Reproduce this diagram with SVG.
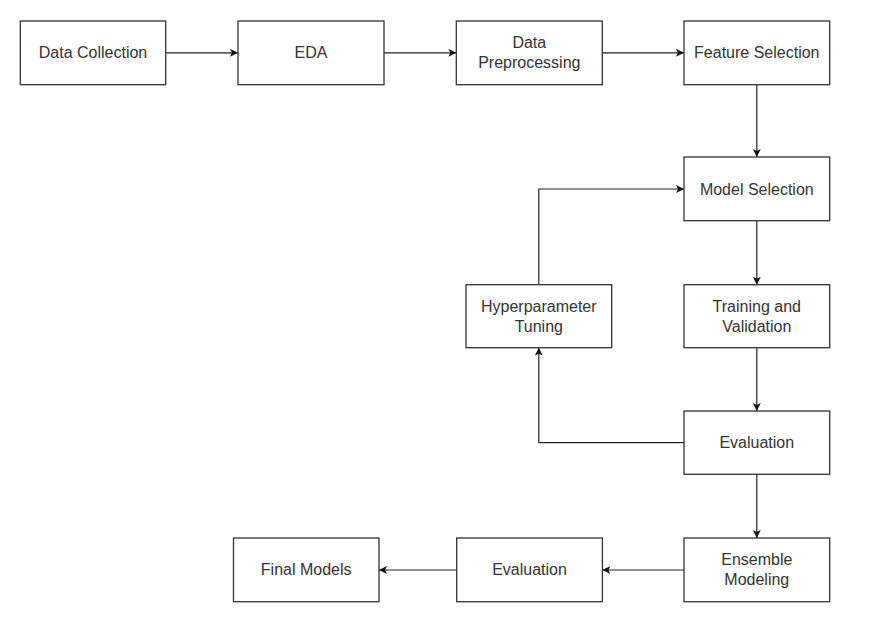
<svg xmlns="http://www.w3.org/2000/svg" width="870" height="627" viewBox="0 0 870 627">
<defs>
<style>
.box{fill:#fff;stroke:#333;stroke-width:1.3}
.lbl{font-family:"Liberation Sans",Arial,sans-serif;font-size:16px;fill:#333;text-anchor:middle}
.edge{fill:none;stroke:#222;stroke-width:1.2}
</style>
<marker id="ah" markerUnits="userSpaceOnUse" markerWidth="10" markerHeight="10" refX="8" refY="4" orient="auto">
<path d="M0,0 L8,4 L0,8 L2,4 Z" fill="#111"/>
</marker>
</defs>
<rect width="870" height="627" fill="#fff"/>
<g id="connectors">
<path class="edge" d="M165.7,52.8 H238" marker-end="url(#ah)"/>
<path class="edge" d="M384,52.8 H456.3" marker-end="url(#ah)"/>
<path class="edge" d="M602.3,52.8 H684" marker-end="url(#ah)"/>
<path class="edge" d="M756.8,84.7 V157" marker-end="url(#ah)"/>
<path class="edge" d="M756.8,220.7 V284.7" marker-end="url(#ah)"/>
<path class="edge" d="M756.8,347.7 V411" marker-end="url(#ah)"/>
<path class="edge" d="M684,442.7 H538.8 V347.7" marker-end="url(#ah)"/>
<path class="edge" d="M538.8,284.7 V189 H684" marker-end="url(#ah)"/>
<path class="edge" d="M756.8,474.3 V538" marker-end="url(#ah)"/>
<path class="edge" d="M684,570 H602.4" marker-end="url(#ah)"/>
<path class="edge" d="M456.7,570 H379" marker-end="url(#ah)"/>
</g>
<g id="data-collection"><rect class="box" x="20.3" y="21" width="145.4" height="63.7"/><text class="lbl" x="93" y="58.3">Data Collection</text></g>
<g id="eda"><rect class="box" x="238" y="21" width="146" height="63.7"/><text class="lbl" x="311" y="58.3">EDA</text></g>
<g id="data-preprocessing"><rect class="box" x="456.3" y="21" width="146" height="63.7"/><text class="lbl" x="529.3" y="48.3">Data</text><text class="lbl" x="529.3" y="68.3">Preprocessing</text></g>
<g id="feature-selection"><rect class="box" x="684" y="21" width="145.7" height="63.7"/><text class="lbl" x="756.8" y="58.3">Feature Selection</text></g>
<g id="model-selection"><rect class="box" x="684" y="157" width="145.7" height="63.7"/><text class="lbl" x="756.8" y="194.5">Model Selection</text></g>
<g id="training-validation"><rect class="box" x="684" y="284.7" width="145.7" height="63"/><text class="lbl" x="756.8" y="311.5">Training and</text><text class="lbl" x="756.8" y="331.5">Validation</text></g>
<g id="hyperparameter-tuning"><rect class="box" x="466" y="284.7" width="145.7" height="63"/><text class="lbl" x="538.8" y="311.5">Hyperparameter</text><text class="lbl" x="538.8" y="331.5">Tuning</text></g>
<g id="evaluation-1"><rect class="box" x="684" y="411" width="145.7" height="63.3"/><text class="lbl" x="756.8" y="448.3">Evaluation</text></g>
<g id="ensemble-modeling"><rect class="box" x="684" y="538" width="145.7" height="63.7"/><text class="lbl" x="756.8" y="565.3">Ensemble</text><text class="lbl" x="756.8" y="585.3">Modeling</text></g>
<g id="evaluation-2"><rect class="box" x="456.7" y="538" width="145.7" height="63.7"/><text class="lbl" x="529.5" y="575.3">Evaluation</text></g>
<g id="final-models"><rect class="box" x="233.5" y="538" width="145.5" height="63.7"/><text class="lbl" x="306.2" y="575.3">Final Models</text></g>
</svg>
